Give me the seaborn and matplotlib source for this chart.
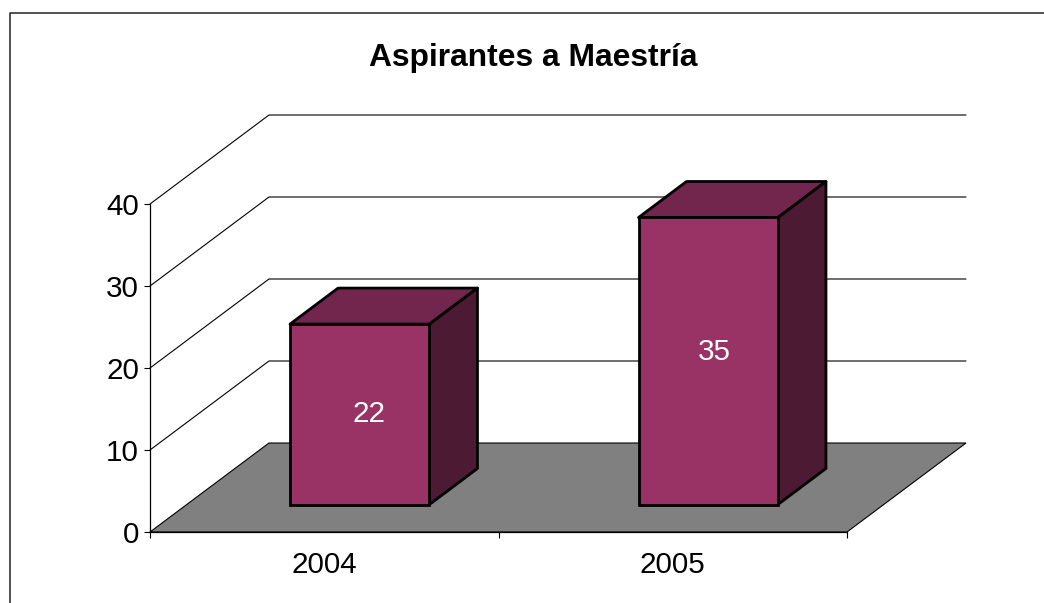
import pandas as pd
import matplotlib
matplotlib.use("Agg")
import matplotlib.pyplot as plt
from matplotlib.patches import Polygon
import seaborn as sns

# values
years = ["2004", "2005"]
aspirantes = [22, 35]
y_ticks = [0, 10, 20, 30, 40]

W, H = 1044, 603
LEFT, RIGHT, TOP, BOTTOM = 150, 847, 204, 532

sns.set_theme(style="white")
plt.rcParams["font.family"] = ["Liberation Sans", "DejaVu Sans"]

fig = plt.figure(figsize=(W / 100, H / 100), dpi=100, facecolor="white")
ax = fig.add_axes([LEFT / W, 1 - BOTTOM / H, (RIGHT - LEFT) / W, (BOTTOM - TOP) / H])
ax.patch.set_visible(False)

# pixel sizes of one data unit
px_x = (RIGHT - LEFT) / 2
px_y = (BOTTOM - TOP) / 40

# 3D depth, as data units
wall_dx, wall_dy = 119 / px_x, 89 / px_y
bar_dx, bar_dy = 48 / px_x, 36 / px_y
front_dx, front_dy = 35.5 / px_x, 27.5 / px_y

# the labels are not centred on the bar fronts in the original (points)
label_shift = [(7, 0), (4.5, 6.5)]

df = pd.DataFrame({"year": years, "aspirantes": aspirantes})
sns.barplot(data=df, x="year", y="aspirantes", width=0.4, color="#993366",
            saturation=1, edgecolor="black", linewidth=2, ax=ax, zorder=5)
ax.set_xlim(-0.5, 1.5)
ax.set_ylim(0, 40)

# floor
ax.add_patch(Polygon([(-0.5, 0), (1.5, 0), (1.5 + wall_dx, wall_dy), (-0.5 + wall_dx, wall_dy)],
                     closed=True, facecolor="#808080", edgecolor="black", linewidth=0.8,
                     clip_on=False, zorder=1))

# gridlines on side and back wall
for t in y_ticks[1:]:
    ax.plot([-0.5, -0.5 + wall_dx, 1.5 + wall_dx], [t, t + wall_dy, t + wall_dy],
            color="black", linewidth=0.8, clip_on=False, zorder=2)

# move bar fronts onto the floor, add top and side faces
for bar, value, shift in zip(ax.patches[:2], aspirantes, label_shift):
    x0 = bar.get_x() + front_dx
    x1 = x0 + bar.get_width()
    y0 = front_dy
    y1 = value + front_dy
    bar.set_x(x0)
    bar.set_y(y0)
    bar.set_clip_on(False)
    top = [(x0, y1), (x1, y1), (x1 + bar_dx, y1 + bar_dy), (x0 + bar_dx, y1 + bar_dy)]
    side = [(x1, y0), (x1 + bar_dx, y0 + bar_dy), (x1 + bar_dx, y1 + bar_dy), (x1, y1)]
    ax.add_patch(Polygon(top, closed=True, facecolor="#73264D", edgecolor="black",
                         linewidth=2, joinstyle="round", clip_on=False, zorder=4))
    ax.add_patch(Polygon(side, closed=True, facecolor="#4D1A33", edgecolor="black",
                         linewidth=2, joinstyle="round", clip_on=False, zorder=4))
    ax.annotate(str(value), ((x0 + x1) / 2, (y0 + y1) / 2), xytext=shift,
                textcoords="offset points", color="white", fontsize=21.3,
                ha="center", va="center", zorder=6)

# axes
for name, spine in ax.spines.items():
    spine.set_visible(name in ("left", "bottom"))
    spine.set_color("black")
    spine.set_linewidth(0.9)
    spine.set_zorder(3)
ax.set_xlabel("")
ax.set_ylabel("")
ax.set_yticks(y_ticks)
ax.set_xticks([0, 1], labels=years)
ax.set_xticks([-0.5, 0.5, 1.5], minor=True)
ax.tick_params(axis="y", left=True, length=4, width=0.8, color="black", labelsize=21.3, pad=4, labelcolor="black")
ax.tick_params(axis="x", which="major", bottom=False, labelsize=21.3, pad=8, labelcolor="black")
ax.tick_params(axis="x", which="minor", bottom=True, length=4, width=0.8, color="black")

# outer chart border, cropped on the right and bottom
fig.add_artist(plt.Line2D([9.5 / W, 9.5 / W, 1], [0, 1 - 12.5 / H, 1 - 12.5 / H],
                          color="#222222", linewidth=1.1))

fig.text(533 / W, 1 - 58 / H, "Aspirantes a Maestría", fontsize=22.9, fontweight="bold",
         color="black", ha="center", va="center")

fig.savefig("out.png", dpi=100)
